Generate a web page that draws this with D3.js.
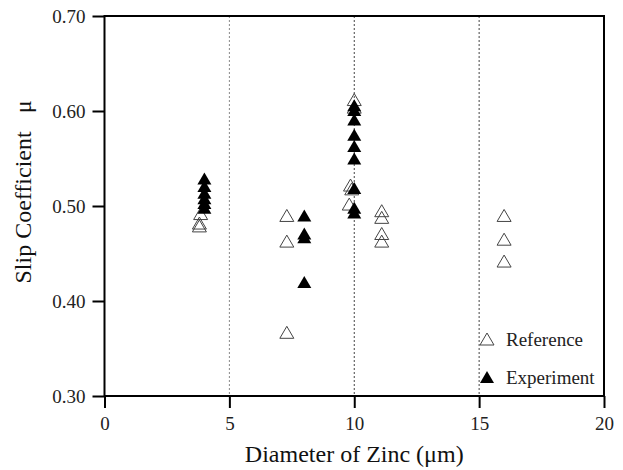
<!DOCTYPE html>
<html lang="en">
<head>
<meta charset="UTF-8">
<title>Slip Coefficient vs Diameter of Zinc</title>
<script src="https://cdn.jsdelivr.net/npm/d3@7"></script>
<style>
  body { margin: 0; background: #fff; }
  text { font-family: "Liberation Serif", "Times New Roman", serif; }
</style>
</head>
<body>
<div id="chart"></div>
<script>
// reference points (open triangles)
var refX = [3.85, 3.8, 3.8, 7.3, 7.3, 7.3, 10, 10, 9.85, 9.9, 9.8, 11.1, 11.1, 11.1, 11.1, 16, 16, 16];
var refY = [0.491, 0.481, 0.478, 0.489, 0.462, 0.366, 0.611, 0.603, 0.521, 0.517, 0.501, 0.494, 0.487, 0.470, 0.462, 0.489, 0.464, 0.441];

// experiment points (filled triangles)
var expX = [4, 4, 4, 4, 4, 4, 8, 8, 8, 8, 10, 10, 10, 10, 10, 10, 10, 10, 10];
var expY = [0.528, 0.520, 0.513, 0.507, 0.502, 0.497, 0.489, 0.470, 0.466, 0.419,
            0.605, 0.600, 0.590, 0.574, 0.562, 0.549, 0.518, 0.497, 0.492];

var xTicks = [0, 5, 10, 15, 20];
var yTicks = [0.30, 0.40, 0.50, 0.60, 0.70];
var gridX = [5, 10, 15];

var W = 623, H = 470;
var m = {left: 104.5, right: 19, top: 16, bottom: 74};

var svg = d3.select("#chart").append("svg")
  .attr("width", W).attr("height", H);

var x = d3.scaleLinear().domain([0, 20]).range([m.left, W - m.right]);
var y = d3.scaleLinear().domain([0.30, 0.70]).range([H - m.bottom, m.top]);

// dotted guide lines
svg.selectAll("line.grid")
  .data(gridX)
  .enter().append("line")
  .attr("class", "grid")
  .attr("x1", function(d){ return x(d); }).attr("x2", function(d){ return x(d); })
  .attr("y1", y(0.70)).attr("y2", y(0.30))
  .attr("stroke", function(d){ return d === 5 ? "#888" : "#444"; })
  .attr("stroke-width", 1)
  .attr("stroke-dasharray", "2,2");

// frame
svg.append("rect")
  .attr("x", x(0)).attr("y", y(0.70))
  .attr("width", x(20) - x(0)).attr("height", y(0.30) - y(0.70))
  .attr("fill", "none").attr("stroke", "#000").attr("stroke-width", 2);

// axes
var xAxis = svg.append("g")
  .attr("transform", "translate(0," + y(0.30) + ")")
  .call(d3.axisBottom(x).tickValues(xTicks).tickSize(12).tickPadding(9).tickFormat(d3.format("d")));
var yAxis = svg.append("g")
  .attr("transform", "translate(" + x(0) + ",0)")
  .call(d3.axisLeft(y).tickValues(yTicks).tickSize(12).tickPadding(7).tickFormat(d3.format(".2f")));

[xAxis, yAxis].forEach(function(g) {
  g.select(".domain").remove();
  g.selectAll(".tick line").attr("stroke", "#000").attr("stroke-width", 2);
  g.selectAll(".tick text")
    .attr("font-family", "Liberation Serif, serif")
    .attr("font-size", 19).attr("fill", "#222");
});

// axis titles
svg.append("text")
  .attr("x", x(10)).attr("y", 462)
  .attr("text-anchor", "middle").attr("font-size", 24).attr("fill", "#111")
  .text("Diameter of Zinc (\u03bcm)");

svg.append("text")
  .attr("transform", "translate(31,192) rotate(-90)")
  .attr("text-anchor", "middle").attr("font-size", 24).attr("fill", "#111")
  .text("Slip Coefficient\u00a0\u00a0\u00a0\u03bc");

// triangle marker
var tri = "M0,-7L7,5L-7,5Z";

var refData = refX.map(function(d, i){ return [d, refY[i]]; });
var expData = expX.map(function(d, i){ return [d, expY[i]]; });

svg.selectAll("path.ref")
  .data(refData)
  .enter().append("path")
  .attr("class", "ref")
  .attr("d", tri)
  .attr("transform", function(d){ return "translate(" + x(d[0]) + "," + y(d[1]) + ")"; })
  .attr("fill", "none").attr("stroke", "#444").attr("stroke-width", 1);

svg.selectAll("path.exp")
  .data(expData)
  .enter().append("path")
  .attr("class", "exp")
  .attr("d", tri)
  .attr("transform", function(d){ return "translate(" + x(d[0]) + "," + y(d[1]) + ")"; })
  .attr("fill", "#000");

// legend
var legend = [
  {label: "Reference", fill: "none", stroke: "#444", yy: 340},
  {label: "Experiment", fill: "#000", stroke: "none", yy: 378}
];
var lg = svg.selectAll("g.legend").data(legend).enter().append("g")
  .attr("class", "legend")
  .attr("transform", function(d){ return "translate(487," + d.yy + ")"; });
lg.append("path").attr("d", tri)
  .attr("fill", function(d){ return d.fill; })
  .attr("stroke", function(d){ return d.stroke; });
lg.append("text").attr("x", 19).attr("y", 6)
  .attr("font-size", 19).attr("fill", "#222")
  .text(function(d){ return d.label; });
</script>
</body>
</html>
